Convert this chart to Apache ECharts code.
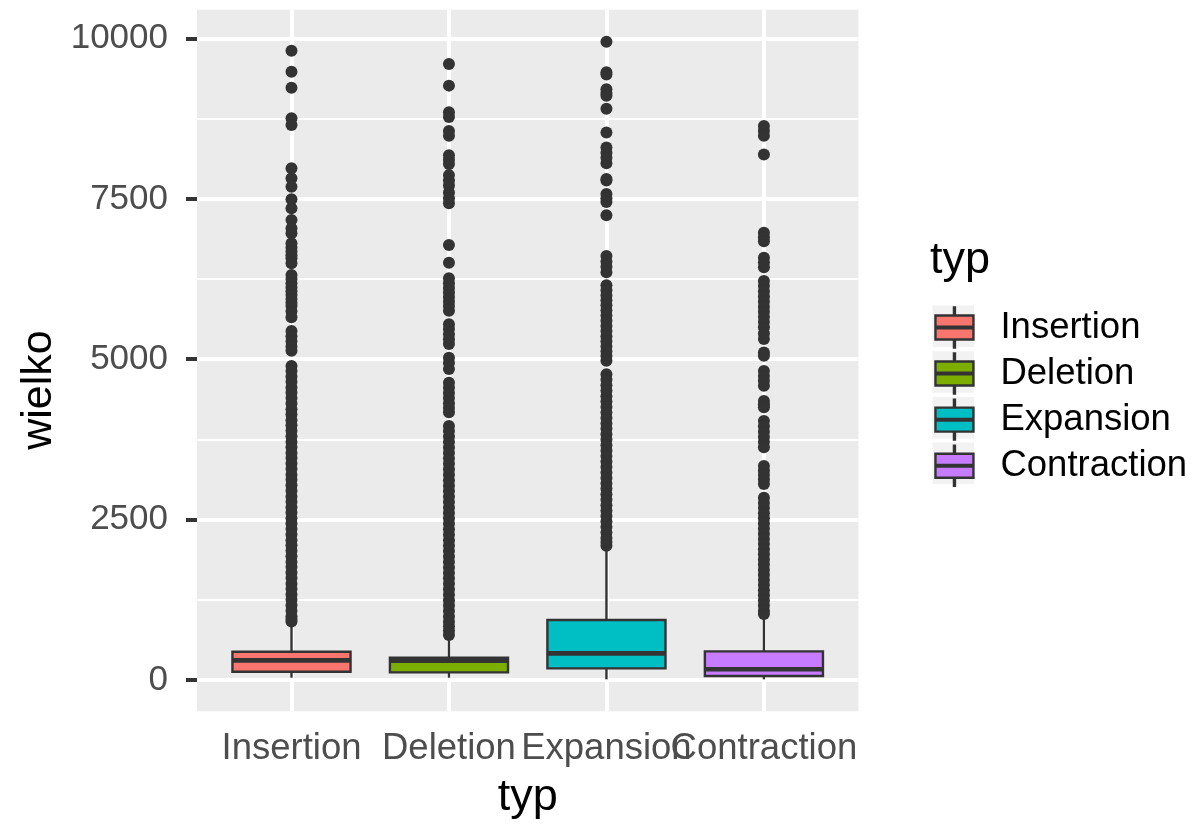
<!DOCTYPE html>
<html><head><meta charset="utf-8">
<script src="https://cdn.jsdelivr.net/npm/echarts@6/dist/echarts.min.js"></script>
<style>html,body{margin:0;padding:0;background:#fff}#c{width:1197px;height:829px}</style>
</head><body><div id="c"></div>
<script>
const categories = ['Insertion', 'Deletion', 'Expansion', 'Contraction'];
const fillColors = ['#F8766D', '#7CAE00', '#00BFC4', '#C77CFF'];
// box statistics per category
const lowerWhisker = [36, 36, 11, 11];
const q1 = [129, 120, 182, 62];
const median = [307, 300, 416, 167];
const q3 = [441, 348, 935, 447];
const upperWhisker = [905, 685, 2060, 1015];
// outliers
const insertionOutliers = [9810, 9483, 9233, 8756, 8652, 7977, 7821, 7690, 7493, 7353, 7171, 7041, 6963, 6808, 6740, 6680, 6620, 6574, 6496, 6313, 6250, 6184, 6120, 6060, 6002, 5940, 5880, 5830, 5750, 5655, 5440, 5360, 5280, 5200, 5133, 4895, 4815, 4730, 4650, 4560, 4480, 4395, 4310, 4220, 4140, 4050, 3970, 3885, 3800, 3710, 3630, 3540, 3460, 3375, 3290, 3200, 3120, 3035, 2950, 2860, 2780, 2695, 2610, 2520, 2440, 2355, 2270, 2180, 2100, 2015, 1930, 1840, 1760, 1675, 1590, 1500, 1420, 1335, 1250, 1165, 1080, 995, 950, 912];
const deletionOutliers = [9603, 9265, 8850, 8776, 8558, 8485, 8180, 8110, 8044, 7870, 7790, 7710, 7600, 7510, 7430, 6781, 6505, 6262, 6184, 6110, 6040, 5970, 5900, 5830, 5757, 5545, 5470, 5390, 5310, 5238, 5023, 4940, 4848, 4635, 4555, 4475, 4395, 4315, 4240, 4173, 3960, 3880, 3795, 3710, 3625, 3540, 3455, 3370, 3285, 3200, 3115, 3030, 2945, 2860, 2775, 2690, 2605, 2520, 2435, 2350, 2265, 2180, 2095, 2010, 1925, 1840, 1755, 1670, 1585, 1500, 1415, 1330, 1245, 1160, 1075, 990, 910, 840, 770, 700];
const expansionOutliers = [9950, 9475, 9440, 9208, 9150, 9108, 8906, 8535, 8299, 8220, 8140, 8055, 7810, 7785, 7575, 7510, 7450, 7245, 6610, 6525, 6440, 6355, 6153, 6075, 5995, 5920, 5840, 5760, 5680, 5600, 5520, 5440, 5360, 5280, 5200, 5120, 5050, 4977, 4765, 4680, 4595, 4510, 4425, 4340, 4255, 4170, 4085, 4000, 3915, 3830, 3745, 3660, 3575, 3490, 3405, 3320, 3235, 3150, 3065, 2980, 2895, 2810, 2725, 2640, 2555, 2470, 2385, 2300, 2215, 2150, 2094];
const contractionOutliers = [8636, 8560, 8485, 8192, 6973, 6900, 6838, 6584, 6510, 6433, 6220, 6140, 6060, 5980, 5900, 5820, 5740, 5660, 5580, 5500, 5400, 5316, 5105, 5056, 4817, 4740, 4665, 4588, 4349, 4300, 4251, 4037, 3955, 3870, 3790, 3710, 3627, 3336, 3265, 3195, 3125, 3055, 2842, 2760, 2680, 2600, 2520, 2440, 2360, 2280, 2200, 2120, 2040, 1960, 1880, 1800, 1720, 1640, 1560, 1480, 1400, 1320, 1240, 1160, 1080, 1029];
const yTicks = [0, 2500, 5000, 7500, 10000];
const yMinorTicks = [1250, 3750, 6250, 8750];
const xTicks = [1, 2, 3, 4];
const xLabelsOdd = [1, 3];
const xLabelsEven = [2, 4];

const outlierLists = [insertionOutliers, deletionOutliers, expansionOutliers, contractionOutliers];
const allVals = [].concat(lowerWhisker, upperWhisker, ...outlierLists);
const dLo = Math.min(...allVals), dHi = Math.max(...allVals);
const pad = 0.05 * (dHi - dLo);
const yMin = dLo - pad, yMax = dHi + pad;

const FONT = 'Liberation Sans';
const DARK = '#333333';
const BOX_W = 0.75;

function renderBox(params, api) {
  const x = api.value(0);
  const p = [1, 2, 3, 4, 5].map(k => api.coord([x, api.value(k)]));
  const w = api.size([BOX_W, 0])[0];
  const cx = p[0][0];
  const fill = api.visual('color');
  return {
    type: 'group',
    children: [
      { type: 'line', shape: { x1: cx, y1: p[0][1], x2: cx, y2: p[1][1] }, style: { stroke: DARK, lineWidth: 2.4 } },
      { type: 'line', shape: { x1: cx, y1: p[3][1], x2: cx, y2: p[4][1] }, style: { stroke: DARK, lineWidth: 2.4 } },
      { type: 'rect', shape: { x: cx - w / 2, y: p[3][1], width: w, height: p[1][1] - p[3][1] }, style: { fill: fill, stroke: DARK, lineWidth: 2.4 } },
      { type: 'line', shape: { x1: cx - w / 2, y1: p[2][1], x2: cx + w / 2, y2: p[2][1] }, style: { stroke: DARK, lineWidth: 4.6 } }
    ]
  };
}

const boxSeries = categories.map((name, i) => ({
  type: 'custom',
  name: name,
  renderItem: renderBox,
  itemStyle: { color: fillColors[i] },
  encode: { x: 0, y: [1, 2, 3, 4, 5] },
  data: [[i + 1, lowerWhisker[i], q1[i], median[i], q3[i], upperWhisker[i]]],
  z: 3,
  silent: true
}));

const outlierData = [];
outlierLists.forEach((list, i) => list.forEach(v => outlierData.push([i + 1, v])));

const gridLines = [];
yTicks.forEach(v => gridLines.push({ yAxis: v, lineStyle: { width: 4 } }));
yMinorTicks.forEach(v => gridLines.push({ yAxis: v, lineStyle: { width: 2 } }));
xTicks.forEach(v => gridLines.push({ xAxis: v, lineStyle: { width: 4 } }));

const legendIcon = 'path://M18.5,0 L19.5,0 L19.5,8 L18.5,8 Z M0,8 L38,8 L38,32 L0,32 Z M0,19.2 L38,19.2 L38,20.8 L0,20.8 Z M18.5,32 L19.5,32 L19.5,40 L18.5,40 Z';
const KEY_STEP = 45.7;
const keyBg = categories.map((c, i) => ({
  type: 'rect', z: 0,
  shape: { x: 932.5, y: 305.5 + i * KEY_STEP, width: 41.5, height: 41.5 },
  style: { fill: '#F2F2F2' }
}));

const xLabelStyle = { hideOverlap: false, formatter: v => categories[Math.round(v) - 1], color: '#4D4D4D', fontSize: 36.5, fontFamily: FONT, margin: 19 };

const chart = echarts.init(document.getElementById('c'), null, { renderer: 'canvas' });
chart.setOption({
  animation: false,
  backgroundColor: '#FFFFFF',
  textStyle: { fontFamily: FONT },
  grid: { left: 197, top: 9.8, width: 661.4, height: 701.4, show: true, backgroundColor: '#EBEBEB', borderWidth: 0, containLabel: false },
  xAxis: [{
    type: 'value', min: 0.4, max: 4.6, position: 'bottom',
    axisLine: { show: false },
    splitLine: { show: false },
    axisTick: { show: true, customValues: xTicks, length: 11, lineStyle: { color: DARK, width: 4 } },
    axisLabel: Object.assign({ customValues: xLabelsOdd }, xLabelStyle)
  }, {
    type: 'value', min: 0.4, max: 4.6, position: 'bottom', offset: 0,
    axisLine: { show: false },
    splitLine: { show: false },
    axisTick: { show: false },
    axisLabel: Object.assign({ customValues: xLabelsEven }, xLabelStyle)
  }],
  yAxis: {
    type: 'value', min: yMin, max: yMax,
    axisLine: { show: false },
    splitLine: { show: false },
    axisTick: { show: true, customValues: yTicks, length: 11, lineStyle: { color: DARK, width: 4 } },
    axisLabel: { customValues: yTicks, hideOverlap: false, formatter: v => String(v), color: '#4D4D4D', fontSize: 35, fontFamily: FONT, margin: 29 }
  },
  legend: {
    show: true, orient: 'vertical', left: 934.25, top: 306.25, padding: 0,
    data: categories,
    icon: legendIcon,
    itemWidth: 38, itemHeight: 40, itemGap: KEY_STEP - 42,
    itemStyle: { borderColor: DARK, borderWidth: 2.4 },
    selectedMode: false,
    textStyle: { fontSize: 36.5, lineHeight: 36, color: '#000000', fontFamily: FONT, padding: [0, 0, 0, 22] },
    z: 5
  },
  graphic: [
    ...keyBg,
    { type: 'text', x: 39, y: 390, rotation: Math.PI / 2, style: { text: 'wielko', font: '43px "Liberation Sans"', fill: '#000', textAlign: 'center', textVerticalAlign: 'middle' } },
    { type: 'text', x: 527.7, y: 798, style: { text: 'typ', font: '45px "Liberation Sans"', fill: '#000', textAlign: 'center', textVerticalAlign: 'middle' } },
    { type: 'text', x: 930, y: 261, style: { text: 'typ', font: '45px "Liberation Sans"', fill: '#000', textAlign: 'left', textVerticalAlign: 'middle' } }
  ],
  series: [
    {
      type: 'line', name: 'grid', data: [], z: 1, silent: true,
      markLine: { z: 1, silent: true, symbol: ['none', 'none'], label: { show: false }, animation: false,
        lineStyle: { color: '#FFFFFF', type: 'solid' }, emphasis: { disabled: true }, data: gridLines }
    },
    ...boxSeries,
    {
      type: 'scatter', name: 'outliers', data: outlierData, symbol: 'circle', symbolSize: 12,
      itemStyle: { color: DARK, opacity: 1 }, z: 4, silent: true
    }
  ]
});
</script></body></html>
